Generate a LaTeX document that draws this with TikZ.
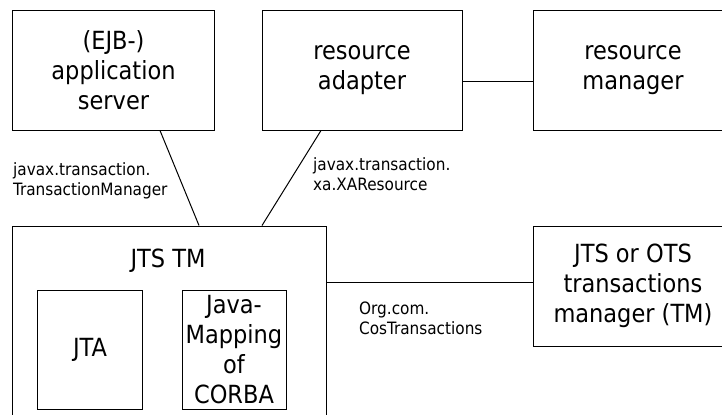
\documentclass[tikz,border=0pt]{standalone}
\usepackage{fontspec}
\setmainfont{DejaVu Sans Condensed}
\begin{document}
\begin{tikzpicture}[x=1bp,y=-1bp,
  box/.style={draw,line width=1bp,inner sep=0pt,align=center,
    font=\fontsize{25bp}{30bp}\selectfont},
  lbl/.style={inner sep=0pt,align=left,anchor=west,
    font=\fontsize{17bp}{20bp}\selectfont},
  conn/.style={line width=1bp}]
\useasboundingbox (0,0) rectangle (722,414);
\clip (0,0) rectangle (722,414);
\node[box,minimum width=201bp,minimum height=120bp] (ejb) at (113.5,70) {(EJB-)\\application\\server};
\node[box,minimum width=200bp,minimum height=120bp] (ra) at (362,70) {resource\\adapter};
\node[box,minimum width=200bp,minimum height=120bp] (rm) at (633,70) {resource\\manager};
\node[box,minimum width=313bp,minimum height=214bp] (tm) at (169.5,333) {};
\node[inner sep=0pt,font=\fontsize{25bp}{30bp}\selectfont] (tmlabel) at (168,261) {JTS TM};
\node[box,minimum width=104bp,minimum height=119bp] (jta) at (90,349.5) {JTA};
\node[box,minimum width=104bp,minimum height=119bp] (jcorba) at (234,349.5) {Java-\\Mapping\\of\\CORBA};
\node[box,minimum width=200bp,minimum height=120bp] (ots) at (633,286) {JTS or OTS\\transactions\\manager (TM)};
\draw[conn] (ejb.south -| 160,0) -- (tm.north -| 199,0);
\draw[conn] (ra.south -| 321,0) -- (tm.north -| 262,0);
\draw[conn] (ra.east |- 0,81) -- (rm.west |- 0,81);
\draw[conn] (tm.east |- 0,282) -- (ots.west |- 0,282);
\node[lbl] (l1) at (13,181) {javax.transaction.\\TransactionManager};
\node[lbl] (l2) at (313,174) {javax.transaction.\\xa.XAResource};
\node[lbl] (l3) at (359,318) {Org.com.\\CosTransactions};
\end{tikzpicture}
\end{document}
